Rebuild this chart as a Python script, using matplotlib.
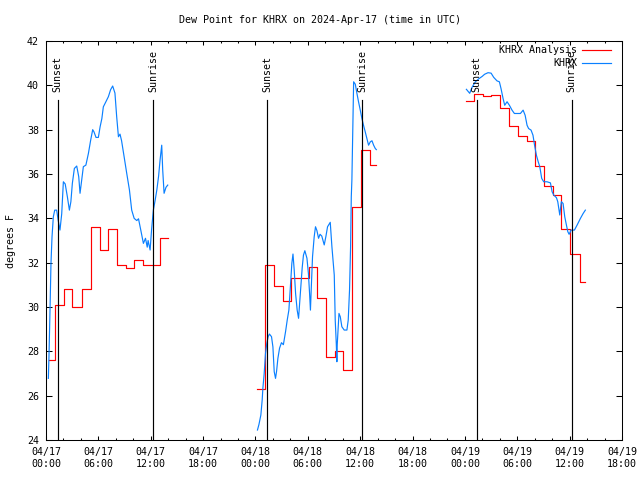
import matplotlib
matplotlib.use("Agg")
import matplotlib.pyplot as plt
import matplotlib.dates as mdates
import numpy as np
import pandas as pd

plt.rcParams["font.family"] = ["DejaVu Sans Mono"]
plt.rcParams["font.size"] = 7.2

START = pd.Timestamp("2024-04-17 00:00")

# KHRX observations, hours after 04/17 00:00 UTC and dew point (F)
obs1_h = [0.27, 0.34, 0.46, 0.57, 0.69, 0.84, 1.0, 1.22, 1.4, 1.6, 1.8, 1.99, 2.2, 2.45,
          2.68, 2.85, 3.02, 3.25, 3.52, 3.75, 3.9, 4.05, 4.28, 4.57, 4.86, 5.12, 5.35,
          5.5, 5.73, 6.0, 6.2, 6.4, 6.57, 6.85, 7.15, 7.4, 7.64, 7.9, 8.1, 8.3, 8.48,
          8.66, 8.95, 9.25, 9.56, 9.82, 10.1, 10.4, 10.6, 10.86, 11.16, 11.4, 11.6,
          11.7, 11.93, 12.1, 12.3, 12.5, 12.7, 12.9, 13.07, 13.26, 13.37, 13.53, 13.75, 13.95]
obs1_v = [26.78, 27.76, 29.86, 31.97, 33.17, 34.07, 34.37, 34.37, 33.9, 33.47, 34.2, 35.65,
          35.55, 34.97, 34.37, 34.75, 35.58, 36.25, 36.36, 35.88, 35.13, 35.6, 36.33, 36.4,
          36.93, 37.53, 38.0, 37.9, 37.65, 37.65, 38.13, 38.5, 39.03, 39.25, 39.49, 39.8,
          39.97, 39.65, 38.58, 37.68, 37.8, 37.5, 36.78, 36.03, 35.28, 34.37, 34.0, 33.9,
          33.98, 33.47, 32.87, 33.1, 32.7, 33.0, 32.57, 33.5, 34.37, 34.8, 35.28, 35.9,
          36.63, 37.3, 36.2, 35.13, 35.4, 35.5]

obs2_h = [24.23, 24.4, 24.62, 24.77, 24.85, 25.0, 25.15, 25.3, 25.45, 25.6, 25.84, 26.0,
          26.15, 26.3, 26.42, 26.57, 26.76, 26.98, 27.2, 27.45, 27.64, 27.83, 27.98, 28.17,
          28.3, 28.44, 28.6, 28.78, 28.94, 29.13, 29.36, 29.5, 29.66, 29.9, 30.07, 30.2,
          30.3, 30.4, 30.54, 30.73, 30.88, 31.04, 31.23, 31.4, 31.6, 31.88, 32.08, 32.26,
          32.57, 32.76, 33.03, 33.14, 33.26, 33.33, 33.37, 33.57, 33.72, 33.9, 34.17,
          34.48, 34.63, 34.78, 34.9, 34.98, 35.05, 35.25, 35.44, 35.63, 35.81, 36.0, 36.2,
          36.38, 36.58, 36.77, 36.96, 37.16, 37.35, 37.54, 37.73, 37.85]
obs2_v = [24.45, 24.7, 25.13, 25.8, 26.33, 27.0, 27.9, 28.36, 28.66, 28.78, 28.66, 28.2,
          27.08, 26.78, 27.1, 27.68, 28.14, 28.39, 28.3, 28.89, 29.41, 29.86, 30.77, 31.97,
          32.39, 31.67, 30.6, 29.86, 29.49, 30.54, 31.79, 32.34, 32.54, 32.2, 31.5, 30.62,
          29.86, 30.9, 32.27, 33.17, 33.62, 33.45, 33.1, 33.28, 33.2, 32.8, 33.2, 33.62,
          33.82, 32.72, 31.44, 29.41, 28.36, 27.53, 28.3, 29.71, 29.56, 29.11, 28.96,
          28.96, 29.41, 30.77, 32.72, 34.97, 35.73, 40.16, 40.05, 39.63, 39.26, 38.9, 38.5,
          38.2, 37.9, 37.6, 37.3, 37.45, 37.5, 37.3, 37.15, 37.1]

obs3_h = [48.17, 48.55, 48.8, 49.2, 49.6, 49.97, 50.26, 50.65, 51.0, 51.3, 51.68, 51.95,
          52.14, 52.37, 52.56, 52.83, 53.1, 53.4, 53.67, 53.97, 54.36, 54.67, 54.9, 55.12,
          55.3, 55.58, 55.8, 55.98, 56.19, 56.4, 56.58, 56.8, 57.03, 57.4, 57.8, 57.99,
          58.18, 58.49, 58.64, 58.87, 59.05, 59.25, 59.44, 59.63, 59.79, 59.94, 60.17,
          60.55, 60.86, 61.24, 61.55, 61.8]
obs3_v = [39.82, 39.64, 39.9, 40.16, 40.3, 40.4, 40.5, 40.57, 40.55, 40.36, 40.2, 40.16,
          39.85, 39.41, 39.1, 39.26, 39.1, 38.88, 38.73, 38.73, 38.73, 38.88, 38.65, 38.2,
          38.05, 37.98, 37.75, 37.3, 36.85, 36.55, 36.33, 35.8, 35.65, 35.65, 35.6, 35.2,
          35.05, 34.93, 34.75, 34.15, 34.75, 34.67, 34.07, 33.7, 33.4, 33.28, 33.47,
          33.47, 33.7, 34.0, 34.22, 34.37]

# KHRX analysis, hourly values (start hour of each step, last entry closes the run)
ana1_h = [0.34, 1.05, 2.1, 2.95, 4.1, 5.1, 6.15, 7.1, 8.15, 9.15, 10.1, 11.1, 13.08, 13.95]
ana1_v = [27.6, 30.1, 30.8, 30.0, 30.8, 33.6, 32.55, 33.5, 31.9, 31.75, 32.1, 31.9, 33.1, 33.1]
ana2_h = [24.23, 25.1, 26.15, 27.1, 28.08, 30.14, 31.1, 32.1, 33.15, 34.0, 35.08, 36.1,
          37.1, 37.85]
ana2_v = [26.29, 31.88, 30.95, 30.26, 31.29, 31.79, 30.4, 27.76, 28.03, 27.16, 34.5, 37.08,
          36.4, 36.4]
ana3_h = [48.17, 49.05, 50.1, 51.0, 52.06, 53.05, 54.1, 55.1, 56.05, 57.1, 58.08, 59.02,
          60.03, 61.15, 61.8]
ana3_v = [39.31, 39.6, 39.52, 39.55, 39.0, 38.18, 37.73, 37.49, 36.35, 35.46, 35.05, 33.52,
          32.38, 31.11, 31.11]

sun_h = [1.32, 12.28, 25.33, 36.25, 49.35, 60.22]
sun_labels = ["Sunset", "Sunrise", "Sunset", "Sunrise", "Sunset", "Sunrise"]


def when(hours):
    return (START + pd.to_timedelta(np.asarray(hours), unit="h")).to_numpy()


fig = plt.figure(figsize=(6.4, 4.8), dpi=100)
ax = fig.add_axes([46 / 640, 40 / 480, 576 / 640, 399 / 480])

red = "#ff0000"
blue = "#0a80ff"
for h, v in [(ana1_h, ana1_v), (ana2_h, ana2_v), (ana3_h, ana3_v)]:
    ax.plot(when(h), v, color=red, lw=0.85, drawstyle="steps-post")
for h, v in [(obs1_h, obs1_v), (obs2_h, obs2_v), (obs3_h, obs3_v)]:
    ax.plot(when(h), v, color=blue, lw=0.85)

trans = ax.get_xaxis_transform()
for h, lab in zip(sun_h, sun_labels):
    t = when([h])[0]
    ax.plot([t, t], [0, 0.852], color="black", lw=0.85, transform=trans)
    ax.text(t, 0.872, lab, rotation=90, ha="center", va="bottom", transform=trans)

ax.set_xlim(when([0])[0], when([66])[0])
ax.set_ylim(24, 42)
ax.set_yticks(np.arange(24, 43, 2))
ax.xaxis.set_major_locator(mdates.HourLocator(byhour=[0, 6, 12, 18]))
ax.xaxis.set_minor_locator(mdates.HourLocator(byhour=range(0, 24, 2)))
ax.xaxis.set_major_formatter(mdates.DateFormatter("%m/%d\n%H:%M"))
ax.tick_params(axis="x", which="major", direction="in", top=True, length=2.9, width=0.75, pad=5)
ax.tick_params(axis="x", which="minor", direction="in", top=True, length=1.5, width=0.75)
ax.tick_params(axis="y", which="major", direction="in", right=True, length=4.1, width=0.75, pad=5)
for s in ax.spines.values():
    s.set_linewidth(0.75)

ax.set_ylabel("degrees F", labelpad=8)
fig.text(0.5, 1 - 20 / 480, "Dew Point for KHRX on 2024-Apr-17 (time in UTC)",
         ha="center", va="center")

# gnuplot-style key, text right aligned left of the samples
key = [("KHRX Analysis", red), ("KHRX", blue)]
for i, (lab, col) in enumerate(key):
    y = 1 - (9 + 13.5 * i) / 399
    ax.text(0.922, y, lab, ha="right", va="center", transform=ax.transAxes)
    ax.plot([0.931, 0.981], [y, y], color=col, lw=0.85, transform=ax.transAxes)

fig.savefig("out.png", dpi=100)
